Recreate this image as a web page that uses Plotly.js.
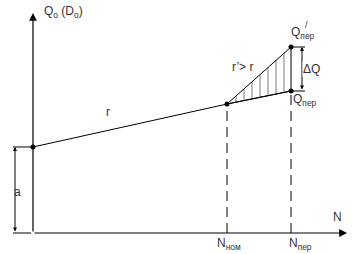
<!DOCTYPE html>
<html>
<head>
<meta charset="utf-8">
<script src="https://cdn.plot.ly/plotly-3.0.1.min.js"></script>
<style>html,body{margin:0;padding:0;background:#fff;}#chart{width:355px;height:254px;}</style>
</head>
<body>
<div id="chart"></div>
<script>
// Schematic values (origin = intersection of axes)
const N_points = [0, 194, 258];           // 0, N_ном, N_пер
const N_labels = ['N<sub>ном</sub>', 'N<sub>пер</sub>'];
const Q_a = 86;                            // intercept a
const Q_nom = 129;                         // Q at N_ном
const Q_per = 142;                         // Q_пер (rate r)
const Q_per_prime = 186;                   // Q'_пер (rate r' > r)
const axisEnds = {N: 314, Q: 220};
const textColor = '#333';
const font = {family: 'Arial, "Liberation Sans", sans-serif', size: 12, color: textColor};

const Nnom = N_points[1], Nper = N_points[2];

const traces = [
  // hatched region between r and r'
  {x: [Nnom, Nper, Nper, Nnom], y: [Q_nom, Q_per_prime, Q_per, Q_nom], mode: 'lines', fill: 'toself',
   fillcolor: 'rgba(0,0,0,0)', line: {color: '#000', width: 1},
   fillpattern: {shape: '|', size: 8, solidity: 0.13, fgcolor: '#000', bgcolor: 'rgba(0,0,0,0)', fillmode: 'overlay'},
   hoverinfo: 'skip'},
  // line r
  {x: N_points, y: [Q_a, Q_nom, Q_per], mode: 'lines', line: {color: '#000', width: 1}},
  // dashed verticals
  {x: [Nnom, Nnom], y: [0, Q_nom], mode: 'lines', line: {color: '#000', width: 1, dash: '10px,6px'}},
  {x: [Nper, Nper], y: [0, Q_per], mode: 'lines', line: {color: '#000', width: 1, dash: '10px,6px'}},
  // points
  {x: [0, Nnom, Nper, Nper], y: [Q_a, Q_nom, Q_per, Q_per_prime], mode: 'markers',
   marker: {color: '#000', size: 5}}
];

const shapes = [
  // a ticks
  {type: 'line', x0: -20, x1: 0, y0: Q_a, y1: Q_a, line: {color: '#000', width: 1}},
  {type: 'line', x0: -20, x1: -2, y0: 0, y1: 0, line: {color: '#000', width: 1}},
  // ΔQ ticks
  {type: 'line', x0: Nper, x1: Nper + 14, y0: Q_per_prime, y1: Q_per_prime, line: {color: '#000', width: 1}},
  {type: 'line', x0: Nper, x1: Nper + 14, y0: Q_per, y1: Q_per, line: {color: '#000', width: 1}}
];

function arrow(x, y, ax, ay, opts) {
  return Object.assign({x, y, ax, ay, xref: 'x', yref: 'y', axref: 'x', ayref: 'y', text: '',
    showarrow: true, arrowhead: 2, arrowsize: 1, arrowwidth: 1.2, arrowcolor: '#000', standoff: 0, startstandoff: 0}, opts || {});
}
function label(x, y, text, opts) {
  return Object.assign({x, y, xref: 'x', yref: 'y', text, showarrow: false, font}, opts || {});
}

const annotations = [
  // axes
  arrow(0, axisEnds.Q, 0, 0, {arrowsize: 1.3}),
  arrow(axisEnds.N, 0, 0, 0, {arrowsize: 1.3}),
  // a double arrow
  arrow(-18, Q_a, -18, 0, {arrowside: 'end+start', arrowhead: 2, arrowsize: 0.8, arrowwidth: 1}),
  // ΔQ double arrow
  arrow(Nper + 11, Q_per_prime, Nper + 11, Q_per, {arrowside: 'end+start', arrowhead: 2, arrowsize: 0.8, arrowwidth: 1}),
  // labels
  label(9, axisEnds.Q + 1, 'Q<sub>o</sub> (D<sub>o</sub>)', {xanchor: 'left'}),
  label(axisEnds.N - 10, 16, 'N'),
  label(-16, 41, 'a'),
  label(75, 121, 'r'),
  label(209, 166, 'r\u2019> r'),
  label(Nnom + 2, -11, N_labels[0]),
  label(Nper + 9, -11, N_labels[1]),
  label(Nper + 12, 200, 'Q<sub>пер</sub>'),
  label(Nper + 15, 208, '/', {font: Object.assign({}, font, {size: 9})}),
  label(Nper + 14, 133, 'Q<sub>пер</sub>'),
  label(Nper + 20, 164, '\u0394Q', {bgcolor: '#fff', borderpad: 0})
];

const layout = {
  width: 355, height: 254,
  margin: {l: 0, r: 0, t: 0, b: 0},
  paper_bgcolor: '#fff', plot_bgcolor: '#fff',
  showlegend: false,
  xaxis: {range: [-33, 322], visible: false, fixedrange: true},
  yaxis: {range: [-21, 233], visible: false, fixedrange: true},
  shapes, annotations, font
};

Plotly.newPlot('chart', traces, layout, {staticPlot: true, displayModeBar: false});
</script>
</body>
</html>
